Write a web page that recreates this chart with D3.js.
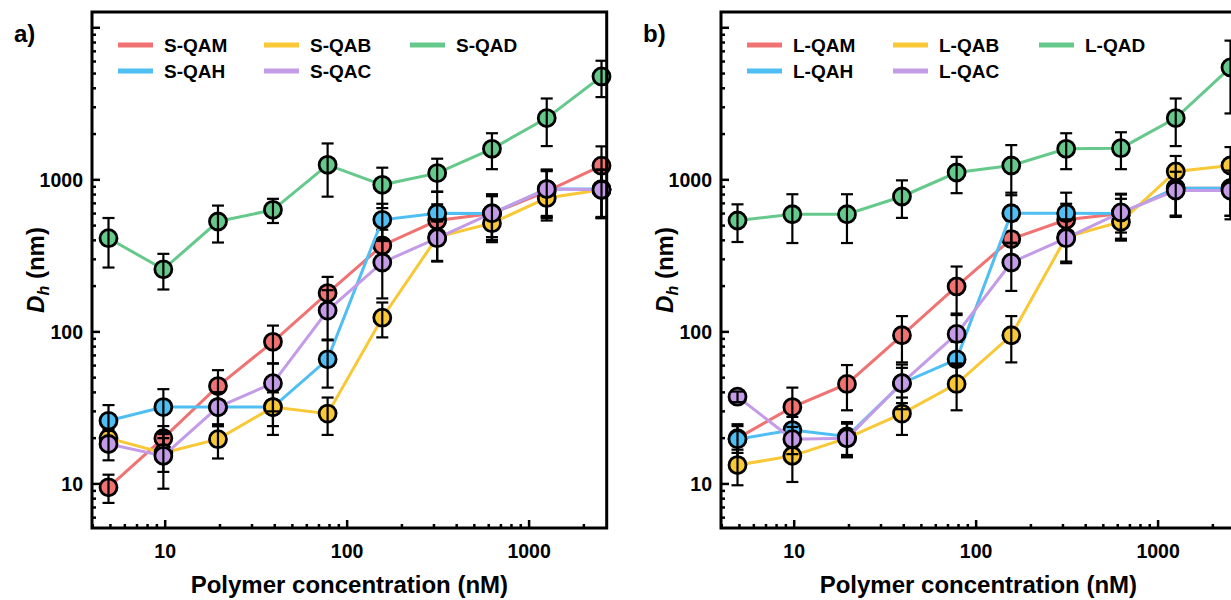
<!DOCTYPE html>
<head>
<meta charset="utf-8">
<style>
body { margin:0; background:#fff; }
text { font-family: "Liberation Sans", Arial, sans-serif; font-weight:bold; fill:#000; }
.frame { fill:none; stroke:#000; stroke-width:3; }
</style>
</head>
<body>
<script src="https://cdn.jsdelivr.net/npm/d3@7"></script>
<script type="text/javascript">

var width = 1231;
var height = 600;

// polymer concentration (nM), shared by both panels
var conc = [4.88, 9.77, 19.5, 39.1, 78.1, 156, 312.5, 625, 1250, 2500];

// panel a) values and error bars (nm)
var sQAM = [9.5, 20, 44, 86, 180, 370, 540, 600, 840, 1240];
var sQAMerr = [2, 4, 12, 24, 50, 100, 150, 180, 300, 420];
var sQAH = [26, 32, 32, 32, 66, 546, 603, 600, 870, 870];
var sQAHerr = [7, 10, 8, 8, 23, 150, 230, 200, 300, 300];
var sQAB = [20, 16, 19.7, 32, 29, 124, 420, 519, 760, 860];
var sQABerr = [3, 4, 5, 11, 8, 32, 130, 130, 200, 300];
var sQAC = [18.3, 15.3, 32, 46, 138, 286, 413, 603, 869, 860];
var sQACerr = [4, 6, 8, 16, 50, 120, 120, 200, 290, 300];
var sQAD = [413, 258, 532, 635, 1255, 927, 1107, 1600, 2547, 4785];
var sQADerr = [148, 68, 145, 115, 480, 275, 270, 425, 880, 1285];

// panel b) values and error bars (nm)
var lQAM = [20, 32, 45.5, 95, 199, 408, 546, 600, 880, 880];
var lQAMerr = [4, 11, 15, 32, 70, 130, 150, 150, 300, 300];
var lQAH = [19.7, 22.6, 20.5, 46, 66, 603, 603, 600, 880, 880];
var lQAHerr = [5, 5, 5, 12, 20, 220, 220, 200, 300, 300];
var lQAB = [13.3, 15.3, 20, 29, 45.5, 95, 420, 530, 1135, 1242];
var lQABerr = [3.5, 5, 5, 8, 15, 32, 130, 130, 300, 400];
var lQAC = [37.5, 19.7, 20, 46, 97, 286, 413, 610, 850, 850];
var lQACerr = [3, 4, 5, 15, 35, 100, 130, 200, 280, 300];
var lQAD = [540, 594, 594, 777, 1117, 1242, 1600, 1615, 2547, 5483];
var lQADerr = [150, 210, 210, 215, 300, 450, 425, 440, 880, 2750];

var colors = ["#f07272", "#4fbef2", "#f9c836", "#c39be6", "#66c98c"];
var xTicks = [10, 100, 1000];
var yTicks = [10, 100, 1000];

var panels = [
  {label: "a)", left: 92, names: ["S-QAM", "S-QAH", "S-QAB", "S-QAC", "S-QAD"],
   vals: [sQAM, sQAH, sQAB, sQAC, sQAD], errs: [sQAMerr, sQAHerr, sQABerr, sQACerr, sQADerr]},
  {label: "b)", left: 721, names: ["L-QAM", "L-QAH", "L-QAB", "L-QAC", "L-QAD"],
   vals: [lQAM, lQAH, lQAB, lQAC, lQAD], errs: [lQAMerr, lQAHerr, lQABerr, lQACerr, lQADerr]}
];

var svg = d3.select("body").append("svg")
  .attr("width", width)
  .attr("height", height);

var plotTop = 12, plotBottom = 528, pw = 514.7;

var y = d3.scaleLog().domain([5.13, 12700]).range([plotBottom, plotTop]);

// legend slots: column-major, 2 rows
var legPos = [[0, 0], [0, 1], [1, 0], [1, 1], [2, 0]];

panels.forEach(function(p) {
  var x = d3.scaleLog().domain([3.96, 2670]).range([p.left, p.left + pw]);
  var g = svg.append("g");

  // minor ticks
  var xMinor = [];
  [1, 10, 100, 1000].forEach(function(dec) {
    for (var k = 2; k <= 9; k++) { var v = k * dec; if (v > 3.96 && v < 2670) xMinor.push(v); }
  });
  var yMinor = [];
  [1, 10, 100, 1000].forEach(function(dec) {
    for (var k = 2; k <= 9; k++) { var v = k * dec; if (v > 5.13 && v < 12700) yMinor.push(v); }
  });

  g.selectAll(".xmin").data(xMinor).enter().append("line")
    .attr("x1", function(d) { return x(d); }).attr("x2", function(d) { return x(d); })
    .attr("y1", plotBottom).attr("y2", plotBottom - 4)
    .attr("stroke", "#000").attr("stroke-width", 2.5);
  g.selectAll(".xmaj").data(xTicks).enter().append("line")
    .attr("x1", function(d) { return x(d); }).attr("x2", function(d) { return x(d); })
    .attr("y1", plotBottom).attr("y2", plotBottom - 8)
    .attr("stroke", "#000").attr("stroke-width", 2.5);
  g.selectAll(".ymin").data(yMinor).enter().append("line")
    .attr("x1", p.left).attr("x2", p.left + 4)
    .attr("y1", function(d) { return y(d); }).attr("y2", function(d) { return y(d); })
    .attr("stroke", "#000").attr("stroke-width", 2.5);
  g.selectAll(".ymaj").data(yTicks.concat([10000])).enter().append("line")
    .attr("x1", p.left).attr("x2", p.left + 8)
    .attr("y1", function(d) { return y(d); }).attr("y2", function(d) { return y(d); })
    .attr("stroke", "#000").attr("stroke-width", 2.5);

  // tick labels
  g.selectAll(".xl").data(xTicks).enter().append("text")
    .attr("x", function(d) { return x(d); }).attr("y", 558)
    .attr("text-anchor", "middle").style("font-size", "19.5px")
    .text(function(d) { return d; });
  g.selectAll(".yl").data(yTicks).enter().append("text")
    .attr("x", p.left - 9).attr("y", function(d) { return y(d) + 7; })
    .attr("text-anchor", "end").style("font-size", "19.5px")
    .text(function(d) { return d; });

  // axis titles
  g.append("text")
    .attr("x", p.left + pw / 2).attr("y", 593)
    .attr("text-anchor", "middle").style("font-size", "24px")
    .text("Polymer concentration (nM)");
  var yt = g.append("text")
    .attr("transform", "translate(" + (p.left - 48) + "," + ((plotTop + plotBottom) / 2) + ") rotate(-90)")
    .attr("text-anchor", "middle").style("font-size", "24px");
  yt.append("tspan").style("font-style", "italic").text("D");
  yt.append("tspan").style("font-style", "italic").style("font-size", "16px").attr("dy", 5).text("h");
  yt.append("tspan").attr("dy", -5).text(" (nm)");

  g.append("text").attr("x", p.left - 78).attr("y", 42)
    .style("font-size", "24px").text(p.label);

  // series
  p.vals.forEach(function(vals, si) {
    var pts = conc.map(function(c, i) { return {c: c, v: vals[i], e: p.errs[si][i]}; });
    var line = d3.line().x(function(d) { return x(d.c); }).y(function(d) { return y(d.v); });
    g.append("path").datum(pts)
      .attr("d", line).attr("fill", "none")
      .attr("stroke", colors[si]).attr("stroke-width", 3);
    g.selectAll(".pt" + si).data(pts).enter().append("circle")
      .attr("cx", function(d) { return x(d.c); })
      .attr("cy", function(d) { return y(d.v); })
      .attr("r", 8.5)
      .attr("fill", colors[si]).attr("stroke", "#000").attr("stroke-width", 2.8);
    var eb = g.selectAll(".eb" + si).data(pts).enter().append("g");
    eb.append("line")
      .attr("x1", function(d) { return x(d.c); }).attr("x2", function(d) { return x(d.c); })
      .attr("y1", function(d) { return y(d.v + d.e); }).attr("y2", function(d) { return y(Math.max(d.v - d.e, 1)); })
      .attr("stroke", "#000").attr("stroke-width", 2.2);
    [1, -1].forEach(function(s) {
      eb.append("line")
        .attr("x1", function(d) { return x(d.c) - 6; }).attr("x2", function(d) { return x(d.c) + 6; })
        .attr("y1", function(d) { return y(Math.max(d.v + s * d.e, 1)); })
        .attr("y2", function(d) { return y(Math.max(d.v + s * d.e, 1)); })
        .attr("stroke", "#000").attr("stroke-width", 2.2);
    });
  });

  // legend
  p.names.forEach(function(n, i) {
    var lx = p.left + 26 + legPos[i][0] * 146;
    var ly = 45 + legPos[i][1] * 26;
    g.append("line").attr("x1", lx).attr("x2", lx + 35).attr("y1", ly).attr("y2", ly)
      .attr("stroke", colors[i]).attr("stroke-width", 5);
    g.append("text").attr("x", lx + 46).attr("y", ly + 7)
      .style("font-size", "19px").text(n);
  });

  // frame
  g.append("rect").attr("class", "frame")
    .attr("x", p.left).attr("y", plotTop).attr("width", pw).attr("height", plotBottom - plotTop);
});

</script>
</body>
